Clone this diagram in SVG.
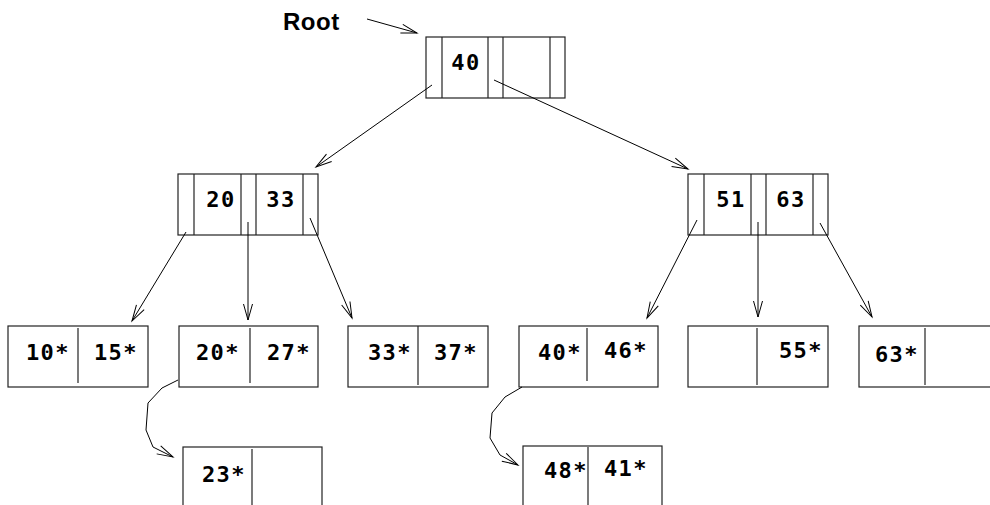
<svg xmlns="http://www.w3.org/2000/svg" width="990" height="505" viewBox="0 0 990 505">
<style>
.box{fill:#fff;stroke:#222;stroke-width:1.2}
.div{stroke:#222;stroke-width:1.2}
.k{font-family:"DejaVu Sans Mono","Liberation Mono",monospace;font-weight:bold;font-size:22px;letter-spacing:1.5px;text-anchor:middle;fill:#000}
.lbl{font-family:"Liberation Sans",Arial,sans-serif;font-weight:bold;font-size:24px;letter-spacing:0.5px;fill:#000}
.c{fill:none;stroke:#000;stroke-width:1}
</style>
<defs>
<marker id="ah" markerUnits="userSpaceOnUse" markerWidth="20" markerHeight="12" viewBox="-18 -6 20 12" refX="0" refY="0" orient="auto">
<path d="M-16,-4.5 L0,0 L-16,4.5" fill="none" stroke="#000" stroke-width="1"/>
</marker>
</defs>
<g id="root-label"><text class="lbl" x="283" y="30">Root</text></g>
<g id="node-root">
<rect class="box" x="426" y="37" width="139" height="61"/>
<line class="div" x1="442" y1="37" x2="442" y2="98"/>
<line class="div" x1="488" y1="37" x2="488" y2="98"/>
<line class="div" x1="503" y1="37" x2="503" y2="98"/>
<line class="div" x1="550" y1="37" x2="550" y2="98"/>
<text class="k" x="466" y="70">40</text>
</g>
<g id="node-mid-left">
<rect class="box" x="178" y="174" width="140" height="61"/>
<line class="div" x1="194" y1="174" x2="194" y2="235"/>
<line class="div" x1="241" y1="174" x2="241" y2="235"/>
<line class="div" x1="256" y1="174" x2="256" y2="235"/>
<line class="div" x1="303" y1="174" x2="303" y2="235"/>
<text class="k" x="221" y="207">20</text>
<text class="k" x="281" y="207">33</text>
</g>
<g id="node-mid-right">
<rect class="box" x="688" y="174" width="140" height="61"/>
<line class="div" x1="704" y1="174" x2="704" y2="235"/>
<line class="div" x1="751" y1="174" x2="751" y2="235"/>
<line class="div" x1="766" y1="174" x2="766" y2="235"/>
<line class="div" x1="813" y1="174" x2="813" y2="235"/>
<text class="k" x="731" y="207">51</text>
<text class="k" x="791" y="207">63</text>
</g>
<g id="leaf-1">
<rect class="box" x="8" y="326" width="140" height="61"/>
<line class="div" x1="78" y1="328" x2="78" y2="383"/>
<text class="k" x="48" y="360">10*</text>
<text class="k" x="116" y="360">15*</text>
</g>
<g id="leaf-2">
<rect class="box" x="179" y="326" width="139" height="61"/>
<line class="div" x1="250" y1="328" x2="250" y2="383"/>
<text class="k" x="218" y="360">20*</text>
<text class="k" x="289" y="360">27*</text>
</g>
<g id="leaf-3">
<rect class="box" x="348" y="326" width="140" height="61"/>
<line class="div" x1="418" y1="326" x2="418" y2="385"/>
<text class="k" x="390" y="360">33*</text>
<text class="k" x="456" y="360">37*</text>
</g>
<g id="leaf-4">
<rect class="box" x="519" y="326" width="139" height="61"/>
<line class="div" x1="587" y1="328" x2="587" y2="381"/>
<text class="k" x="560" y="360">40*</text>
<text class="k" x="626" y="358">46*</text>
</g>
<g id="leaf-5">
<rect class="box" x="688" y="326" width="140" height="61"/>
<line class="div" x1="757" y1="328" x2="757" y2="385"/>
<text class="k" x="801" y="358">55*</text>
</g>
<g id="leaf-6">
<rect class="box" x="859" y="326" width="140" height="61"/>
<line class="div" x1="925" y1="328" x2="925" y2="385"/>
<text class="k" x="897" y="362">63*</text>
</g>
<g id="overflow-1">
<rect class="box" x="183" y="447" width="139" height="70"/>
<line class="div" x1="252" y1="449" x2="252" y2="505"/>
<text class="k" x="224" y="482">23*</text>
</g>
<g id="overflow-2">
<rect class="box" x="523" y="446" width="139" height="70"/>
<line class="div" x1="588" y1="447" x2="588" y2="505"/>
<text class="k" x="566" y="478">48*</text>
<text class="k" x="626" y="476">41*</text>
</g>
<g id="connectors">
<line class="c" x1="367" y1="19" x2="417" y2="33" marker-end="url(#ah)"/>
<line class="c" x1="432" y1="85" x2="316" y2="167" marker-end="url(#ah)"/>
<line class="c" x1="494" y1="80" x2="688" y2="169" marker-end="url(#ah)"/>
<line class="c" x1="186" y1="232" x2="132" y2="321" marker-end="url(#ah)"/>
<line class="c" x1="248" y1="222" x2="248" y2="320" marker-end="url(#ah)"/>
<line class="c" x1="310" y1="218" x2="352" y2="318" marker-end="url(#ah)"/>
<line class="c" x1="697" y1="220" x2="647" y2="318" marker-end="url(#ah)"/>
<line class="c" x1="758" y1="222" x2="758" y2="317" marker-end="url(#ah)"/>
<line class="c" x1="820" y1="223" x2="872" y2="317" marker-end="url(#ah)"/>
<path class="c" d="M178,380 L162,388 L148,403 L146,430 L153,447 L173,457" marker-end="url(#ah)"/>
<path class="c" d="M522,387 L505,397 L492,413 L490,438 L500,455 L518,465" marker-end="url(#ah)"/>
</g>
</svg>
